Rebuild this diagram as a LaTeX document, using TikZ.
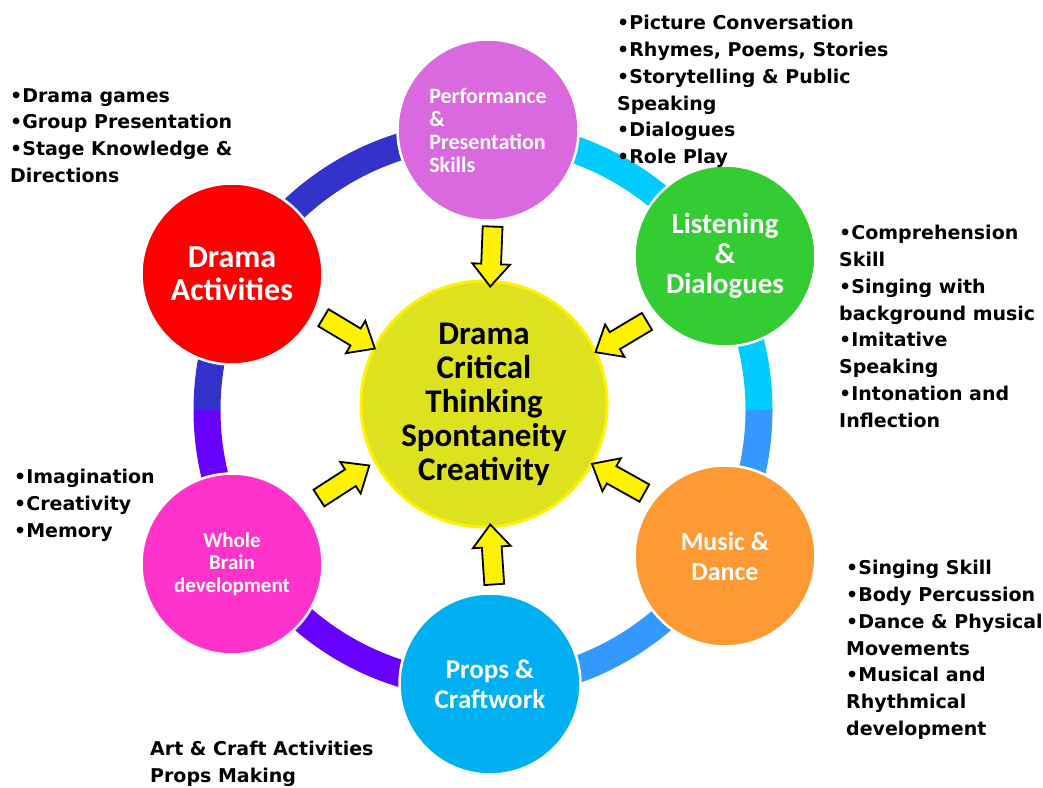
\documentclass[tikz,border=0pt]{standalone}
\usepackage{fontspec}
\setmainfont{Carlito}
\newfontfamily\listfont{DejaVu Sans}
\usetikzlibrary{shapes.arrows}

\definecolor{perfcol}{RGB}{218,104,222}
\definecolor{listencol}{RGB}{51,204,51}
\definecolor{musiccol}{RGB}{255,153,51}
\definecolor{propscol}{RGB}{0,176,240}
\definecolor{braincol}{RGB}{255,51,204}
\definecolor{dramacol}{RGB}{255,0,0}
\definecolor{corecol}{RGB}{221,225,30}
\definecolor{ringcyan}{RGB}{0,204,255}
\definecolor{ringnavy}{RGB}{51,51,204}
\definecolor{ringviolet}{RGB}{102,0,255}
\definecolor{ringblue}{RGB}{51,153,255}

\begin{document}
\begin{tikzpicture}[x=1pt,y=-1pt,
    bubble/.style={circle, draw=white, line width=2.5pt, minimum size=181pt,
        inner sep=0pt, text=white, align=center},
    flowarrow/.style={single arrow, draw=black, line width=1.8pt, fill=yellow,
        minimum height=60pt, inner xsep=0pt, inner ysep=9pt,
        single arrow head extend=9pt, single arrow tip angle=80,
        sloped, allow upside down},
    notes/.style={font=\listfont\bfseries\fontsize{19}{26.8}\selectfont,
        align=left, inner sep=0pt, anchor=north west}]
\useasboundingbox (0,0) rectangle (1043,787);

% ring behind the circles
\coordinate (hub) at (483,410);
\foreach \from/\col in {0/ringcyan, -90/ringnavy, -180/ringviolet, -270/ringblue}
    \draw[line width=27pt, \col] (hub) ++(\from:276) arc (\from:\from-90:276);

\node[circle, fill=corecol, draw=yellow, line width=3pt, minimum size=246pt,
    inner sep=0pt, align=center, font=\bfseries\fontsize{33}{34}\selectfont]
    (core) at (484,404) {Drama\\Critical\\Thinking\\Spontaneity\\Creativity};

\node[bubble, fill=perfcol, align=left, font=\bfseries\fontsize{22}{23}\selectfont]
    (perf) at (488,130) {Performance\\\&\\Presentation\\Skills};
\node[bubble, fill=listencol, font=\bfseries\fontsize{29}{30}\selectfont]
    (listen) at (725,256) {Listening\\\&\\Dialogues};
\node[bubble, fill=musiccol, font=\bfseries\fontsize{26}{30}\selectfont]
    (music) at (725,556) {Music \&\\Dance};
\node[bubble, fill=propscol, font=\bfseries\fontsize{27}{30}\selectfont]
    (props) at (490,684) {Props \&\\Craftwork};
\node[bubble, fill=braincol, font=\bfseries\fontsize{21}{22.5}\selectfont]
    (brain) at (232,564) {Whole\\Brain\\development};
\node[bubble, fill=dramacol, font=\bfseries\fontsize{32}{33}\selectfont]
    (drama) at (232,274) {Drama\\Activities};

% yellow arrows into the centre
\path (perf.-87) -- (core.87) node[flowarrow, midway] {};
\path (listen.221) -- (core.25) node[flowarrow, midway] {};
\path (music.141) -- (core.-29) node[flowarrow, midway] {};
\path (props.87) -- (core.-87) node[flowarrow, midway] {};
\path (brain.38) -- (core.208) node[flowarrow, midway] {};
\path (drama.-25) -- (core.153) node[flowarrow, midway] {};

% bullet lists
\node[notes] (dramanotes) at (10,88)
    {•Drama games\\•Group Presentation\\•Stage Knowledge \&\\Directions};
\node[notes] (perfnotes) at (617,15)
    {•Picture Conversation\\•Rhymes, Poems, Stories\\•Storytelling \& Public\\Speaking\\•Dialogues\\•Role Play};
\node[notes] (listennotes) at (839,225)
    {•Comprehension\\Skill\\•Singing with\\background music\\•Imitative\\Speaking\\•Intonation and\\Inflection};
\node[notes] (brainnotes) at (14,469)
    {•Imagination\\•Creativity\\•Memory};
\node[notes] (musicnotes) at (846,560)
    {•Singing Skill\\•Body Percussion\\•Dance \& Physical\\Movements\\•Musical and\\Rhythmical\\development};
\node[notes] (propsnotes) at (150,741)
    {Art \& Craft Activities\\Props Making};
\end{tikzpicture}
\end{document}
